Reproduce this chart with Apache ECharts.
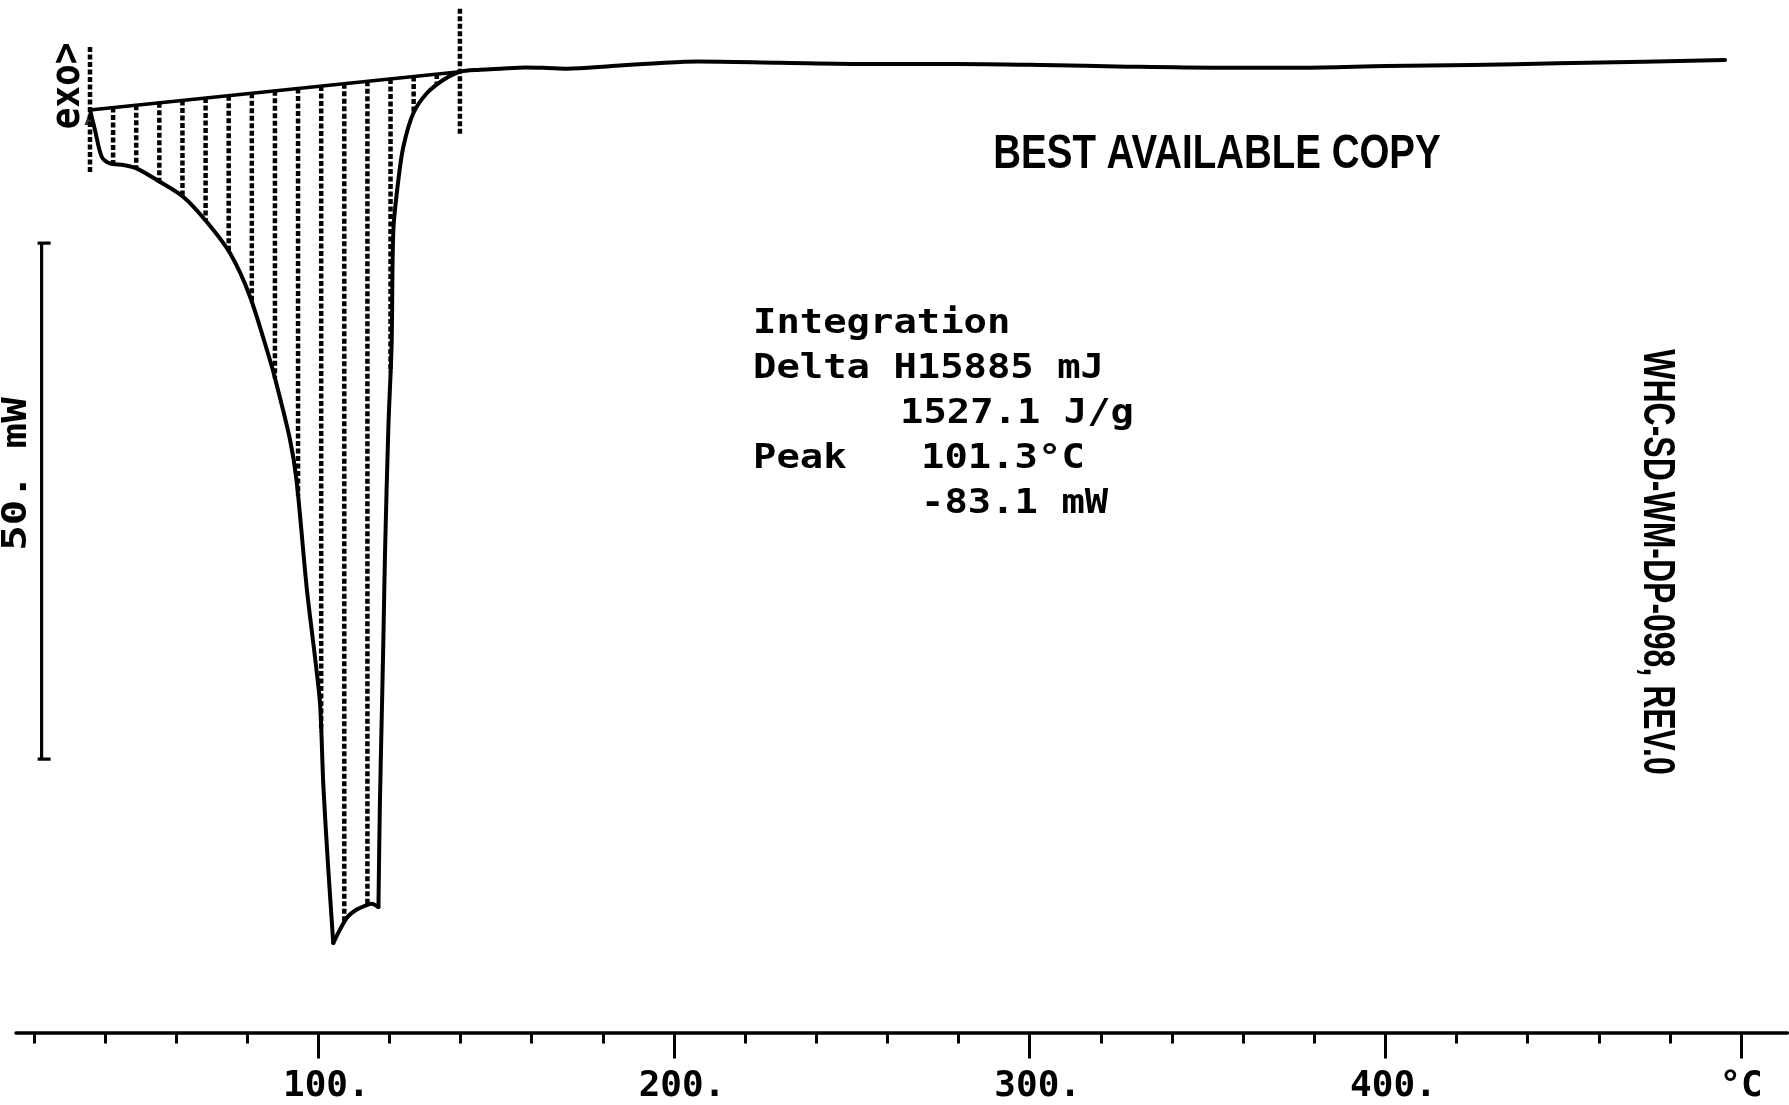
<!DOCTYPE html>
<html>
<head>
<meta charset="utf-8">
<script src="https://cdn.jsdelivr.net/npm/echarts@6/dist/echarts.min.js"></script>
<style>
html,body{margin:0;padding:0;background:#fff;}
#chart{width:1789px;height:1105px;}
</style>
</head>
<body>
<div id="chart"></div>
<script>
// ---- data (temperature in °C, heat flow in mW) ----
const temps = [35.8,37.2,39.1,41.4,45.2,48.9,54.6,62.0,68.6,75.2,80.8,86.4,87.35,92.0,93.9,96.7,99.1,100.5,101.4,102.8,104.2,108.0,110.6,113.6,115.0,116.9,117.3,117.8,118.3,118.75,119.7,120.6,121.1,122.5,123.9,126.7,130.5,135.1,139.8,145.5,151.1,158.4,164.3,169.9,182.6,195.2,206.7,229.8,255.1,279.3,303.5,327.6,351.8,376.0,400.2,424.3,448.5,472.7,495.5];
const heatFlow = [-0.60,-2.54,-5.13,-5.77,-5.93,-6.25,-7.38,-9.00,-11.43,-14.49,-18.69,-24.83,-25.96,-32.48,-36.58,-46.79,-53.74,-58.23,-65.99,-74.17,-81.32,-78.89,-78.12,-77.64,-77.51,-77.83,-68.04,-59.87,-51.70,-43.53,-31.27,-23.37,-12.23,-7.38,-4.16,-0.92,1.02,2.31,3.11,3.30,3.40,3.52,3.47,3.40,3.66,3.93,4.10,3.98,3.86,3.86,3.76,3.60,3.50,3.50,3.66,3.76,3.93,4.08,4.25];

const integStart = 35.8;     // °C
const integEnd = 139.8;      // °C
const hatchCount = 16;       // intervals of the hatching
const limitHalf = 6.1;       // mW, half length of the integration limit markers
const peakIndex = 20;        // index of the sharp minimum in the arrays
const notchIndex = 25;       // index of the corner before the steep rise

const minorTicks = [20,40,60,80,100,120,140,160,180,200,220,240,260,280,300,320,340,360,380,400,420,440,460,480,500];
const majorTicks = [100,200,300,400,500];
const majorLabels = ['100.','200.','300.','400.','°C'];

const scaleBarT = 22.2;      // °C position of the scale bar
const scaleBarTop = -13.5;   // mW
const scaleBarSpan = 50;     // mW
const scaleBarLabel = '50. mW';

const infoLines = ['Integration','Delta H15885 mJ','1527.1 J/g','Peak','101.3°C','-83.1 mW'];
const stampText = 'BEST AVAILABLE COPY';
const docId = 'WHC-SD-WM-DP-098, REV.0';
const exoText = 'exo>';

// ---- helpers ----
function curveAt(t){
  for(let i=0;i<temps.length-1;i++){
    if(t>=temps[i] && t<=temps[i+1]){
      const f=(t-temps[i])/(temps[i+1]-temps[i]);
      return heatFlow[i]+f*(heatFlow[i+1]-heatFlow[i]);
    }
  }
  return heatFlow[heatFlow.length-1];
}
const baseStart = curveAt(integStart), baseEnd = curveAt(integEnd);
function baseAt(t){ return baseStart+(t-integStart)/(integEnd-integStart)*(baseEnd-baseStart); }

const curveData = temps.map((t,i)=>[t,heatFlow[i]]);
const seg1 = curveData.slice(0, peakIndex+1);
const seg2 = curveData.slice(peakIndex, notchIndex+1);
const seg3 = curveData.slice(notchIndex);

// vertical segments separated by gaps ('-')
const hatchData = [];
for(let i=1;i<hatchCount;i++){
  const t = integStart + i*(integEnd-integStart)/hatchCount;
  hatchData.push([t, baseAt(t)], [t, curveAt(t)], [t, '-']);
}
const limitData = [
  [integStart, baseStart+limitHalf], [integStart, baseStart-limitHalf], [integStart,'-'],
  [integEnd, baseEnd+limitHalf], [integEnd, baseEnd-limitHalf]
];

const chart = echarts.init(document.getElementById('chart'), null, {renderer:'canvas'});
const mono = '"DejaVu Sans Mono", monospace';
const dashStyle = {color:'#000', width:4.5, type:[5,2.5], cap:'butt'};

const curveStyle = {color:'#000', width:4, join:'round', cap:'round'};
function curveSeries(name, data, smooth){
  return {type:'line', name:name, xAxisIndex:0, data:data, symbol:'none', smooth:smooth,
    lineStyle:curveStyle, itemStyle:{color:'#000'}};
}
function txt(x,y,s,font,align,extra){
  return Object.assign({type:'text', x:x, y:y,
    style:{text:s, font:font, fill:'#000', textAlign:align, textVerticalAlign:'middle', align:align, verticalAlign:'middle'}}, extra||{});
}

const option = {
  backgroundColor:'#fff',
  animation:false,
  grid:{left:16, right:1.7, top:0.6, bottom:72.4, containLabel:false},
  xAxis:[{
    type:'value', min:15, max:513, gridIndex:0, position:'bottom',
    splitLine:{show:false},
    axisLine:{show:true, onZero:false, lineStyle:{color:'#000', width:3.5}},
    axisTick:{show:true, customValues:minorTicks, length:11, lineStyle:{color:'#000', width:3}},
    axisLabel:{show:false}
  },{
    type:'value', min:15, max:513, gridIndex:0, position:'bottom', offset:0,
    splitLine:{show:false},
    axisLine:{show:false, onZero:false},
    axisTick:{show:true, customValues:majorTicks, length:26, lineStyle:{color:'#000', width:3}},
    axisLabel:{show:true, customValues:majorTicks, margin:36,
      formatter:function(v){ const i=majorTicks.indexOf(v); const s=majorLabels[i]; return i===majorTicks.length-1?'{u|'+s+'}':'{n|'+s+'}'; },
      rich:{
        n:{fontFamily:mono, fontWeight:'bold', fontSize:36, color:'#000', padding:[0,0,0,16]},
        u:{fontFamily:mono, fontWeight:'bold', fontSize:36, color:'#000'}
      }}
  }],
  yAxis:{type:'value', min:-90, max:10, show:false, splitLine:{show:false}},
  series:[
    {type:'line', name:'hatch', xAxisIndex:0, data:hatchData, symbol:'none', connectNulls:false,
      clip:false, lineStyle:dashStyle},
    {type:'line', name:'limits', xAxisIndex:0, data:limitData, symbol:'none', connectNulls:false,
      clip:false, lineStyle:dashStyle},
    {type:'line', name:'baseline', xAxisIndex:0, data:[[integStart,baseStart],[integEnd,baseEnd]],
      symbol:'none', lineStyle:{color:'#000', width:3.5}},
    curveSeries('DSC a', seg1, 0.3),
    curveSeries('DSC b', seg2, 0.3),
    curveSeries('DSC c', seg3, 0.3),
    {type:'scatter', name:'exo arrow', xAxisIndex:0, data:[[integStart, baseStart]],
      symbol:'triangle', symbolSize:[11,15], symbolOffset:[0,'50%'], itemStyle:{color:'#000'}},
    {type:'custom', name:'scale bar', xAxisIndex:0, clip:false, encode:{x:0,y:[1,2]},
      data:[[scaleBarT, scaleBarTop, scaleBarTop-scaleBarSpan]],
      renderItem:function(p,api){
        const a=api.coord([api.value(0),api.value(1)]), b=api.coord([api.value(0),api.value(2)]);
        const st={stroke:'#000', fill:null, lineWidth:3.2};
        return {type:'group', children:[
          {type:'line', shape:{x1:a[0],y1:a[1],x2:b[0],y2:b[1]}, style:st},
          {type:'line', shape:{x1:a[0]-4,y1:a[1],x2:a[0]+9,y2:a[1]}, style:st},
          {type:'line', shape:{x1:b[0]-4,y1:b[1],x2:b[0]+9,y2:b[1]}, style:st}
        ]};
      }}
  ],
  graphic:[
    txt(69, 86, exoText, 'bold 40px '+mono, 'center', {rotation:Math.PI/2, scaleX:0.9}),
    txt(17, 474, scaleBarLabel, 'bold 34px '+mono, 'center', {rotation:Math.PI/2, scaleX:1.25}),
    txt(1217, 154, stampText, 'bold 49px "Liberation Sans", Arial, sans-serif', 'center', {scaleX:0.785}),
    txt(1656, 562, docId, 'bold 44px "Liberation Sans", Arial, sans-serif', 'center', {rotation:-Math.PI/2, scaleX:0.727}),
    txt(753, 324, infoLines[0], 'bold 34px '+mono, 'left', {scaleX:1.143}),
    txt(753, 369, infoLines[1], 'bold 34px '+mono, 'left', {scaleX:1.143}),
    txt(900, 414, infoLines[2], 'bold 34px '+mono, 'left', {scaleX:1.143}),
    txt(753, 459, infoLines[3], 'bold 34px '+mono, 'left', {scaleX:1.143}),
    txt(921, 459, infoLines[4], 'bold 34px '+mono, 'left', {scaleX:1.143}),
    txt(921, 504, infoLines[5], 'bold 34px '+mono, 'left', {scaleX:1.143})
  ]
};
chart.setOption(option);
</script>
</body>
</html>
